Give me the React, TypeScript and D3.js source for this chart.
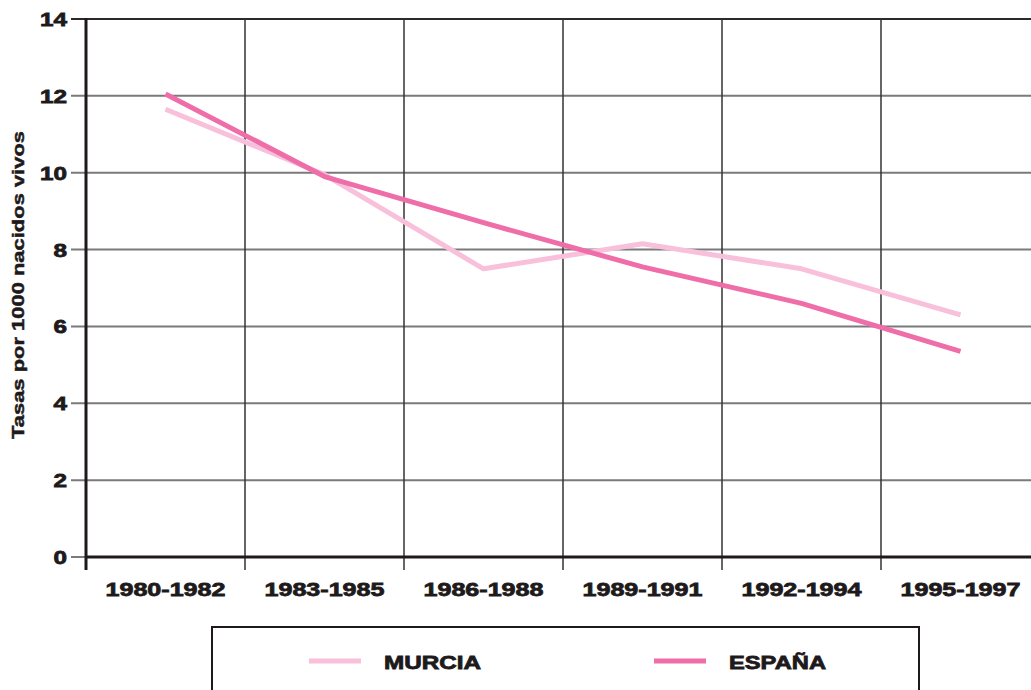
import React, { useRef, useEffect } from "react";
import * as d3 from "d3";

const periods = ["1980-1982", "1983-1985", "1986-1988", "1989-1991", "1992-1994", "1995-1997"];
const murcia = [11.65, 9.95, 7.5, 8.15, 7.5, 6.3];
const espana = [12.05, 9.9, 8.7, 7.55, 6.6, 5.35];
const yTicks = [0, 2, 4, 6, 8, 10, 12, 14];
const seriesNames = ["MURCIA", "ESPAÑA"];
const seriesColors = ["#f8c0da", "#ef6da8"];

const FONT = "'Liberation Sans', Arial, Helvetica, sans-serif";

const App = () => {
  const ref = useRef<SVGSVGElement>(null);

  useEffect(() => {
    const svg = d3.select(ref.current);
    svg.selectAll("*").remove();

    const width = 1031;
    const height = 690;
    const left = 86;
    const top = 19;
    const bottom = 557;
    const step = 159;

    svg.attr("width", width).attr("height", height);

    const x = d3
      .scaleBand<string>()
      .domain(periods)
      .range([left, left + step * periods.length]);
    const y = d3.scaleLinear().domain([0, 14]).range([bottom, top]);

    const g = svg.append("g");

    // horizontal grid
    g.selectAll("line.hgrid")
      .data(yTicks.filter((d) => d > 0))
      .enter()
      .append("line")
      .attr("x1", left - 15)
      .attr("x2", width)
      .attr("y1", (d) => y(d))
      .attr("y2", (d) => y(d))
      .attr("stroke", (d) => (d === 14 ? "#2a2a2a" : "#7a7a7a"))
      .attr("stroke-width", 2);

    // vertical grid at band edges
    g.selectAll("line.vgrid")
      .data(periods.slice(1))
      .enter()
      .append("line")
      .attr("x1", (d) => x(d)!)
      .attr("x2", (d) => x(d)!)
      .attr("y1", top)
      .attr("y2", bottom + 13)
      .attr("stroke", "#333")
      .attr("stroke-width", 1.5);

    // axes
    g.append("line")
      .attr("x1", left)
      .attr("x2", width)
      .attr("y1", bottom)
      .attr("y2", bottom)
      .attr("stroke", "#1e1a1b")
      .attr("stroke-width", 3);
    g.append("line")
      .attr("x1", left - 15)
      .attr("x2", left)
      .attr("y1", bottom)
      .attr("y2", bottom)
      .attr("stroke", "#7a7a7a")
      .attr("stroke-width", 2);
    g.append("line")
      .attr("x1", left)
      .attr("x2", left)
      .attr("y1", top - 1)
      .attr("y2", bottom + 13)
      .attr("stroke", "#1e1a1b")
      .attr("stroke-width", 3);

    const heavy = (sel: any, w = 0.8) =>
      sel
        .attr("font-family", FONT)
        .attr("font-weight", "bold")
        .attr("lengthAdjust", "spacingAndGlyphs")
        .attr("fill", "#1e1a1b")
        .attr("stroke", "#1e1a1b")
        .attr("stroke-width", w);

    // y tick labels
    g.selectAll("text.ylab")
      .data(yTicks)
      .enter()
      .append("text")
      .text((d) => String(d))
      .attr("x", left - 19)
      .attr("y", (d) => y(d) + 7)
      .attr("text-anchor", "end")
      .attr("font-size", 19)
      .attr("textLength", (d) => String(d).length * 13.5)
      .call(heavy);

    // x tick labels
    g.selectAll("text.xlab")
      .data(periods)
      .enter()
      .append("text")
      .text((d) => d)
      .attr("x", (d) => x(d)! + x.bandwidth() / 2)
      .attr("y", 596)
      .attr("text-anchor", "middle")
      .attr("font-size", 19)
      .attr("textLength", 120)
      .call(heavy);

    // y title
    g.append("text")
      .text("Tasas por 1000 nacidos vivos")
      .attr("transform", `translate(24, 285) rotate(-90)`)
      .attr("text-anchor", "middle")
      .attr("font-size", 17)
      .attr("textLength", 308)
      .call(heavy, 0.5);

    // lines
    const line = d3
      .line<number>()
      .x((_, i) => x(periods[i])! + x.bandwidth() / 2)
      .y((d) => y(d));

    [murcia, espana].forEach((vals, i) => {
      g.append("path")
        .datum(vals)
        .attr("d", line)
        .attr("fill", "none")
        .attr("stroke", seriesColors[i])
        .attr("stroke-width", 5)
        .attr("stroke-linejoin", "round");
    });

    // legend
    g.append("rect")
      .attr("x", 212)
      .attr("y", 627)
      .attr("width", 707)
      .attr("height", 80)
      .attr("fill", "none")
      .attr("stroke", "#1e1a1b")
      .attr("stroke-width", 2);

    const legendX = [309, 654];
    seriesNames.forEach((name, i) => {
      g.append("line")
        .attr("x1", legendX[i])
        .attr("x2", legendX[i] + 52)
        .attr("y1", 661)
        .attr("y2", 661)
        .attr("stroke", seriesColors[i])
        .attr("stroke-width", 5);
      g.append("text")
        .text(name)
        .attr("x", legendX[i] + 75)
        .attr("y", 669)
        .attr("font-size", 19)
        .attr("textLength", 97)
        .call(heavy);
    });
  }, []);

  return (
    <div style={{ position: "absolute", left: 0, top: 0, background: "#fff" }}>
      <svg ref={ref} style={{ display: "block" }}></svg>
    </div>
  );
};

export default App;
